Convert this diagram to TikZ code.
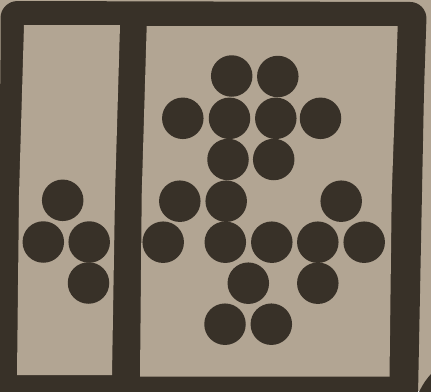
\documentclass[tikz,border=0pt]{standalone}
\usetikzlibrary{backgrounds}
\definecolor{paper}{RGB}{178,165,147}
\definecolor{ink}{RGB}{56,49,40}
\tikzset{
  dot/.style={circle, fill=ink, draw=none, inner sep=0pt, minimum size=41.5pt},
  panel/.style={fill=paper, draw=none}
}
\begin{document}
\begin{tikzpicture}[x=1pt, y=-1pt]
\useasboundingbox (0,0) rectangle (431,391);
\fill[paper] (0,0) rectangle (431,391);
% outer frame
\fill[ink] (-3,395) -- (0.5,60) [rounded corners=17pt] -- (0.5,1) -- (427,2) -- (424,90) [sharp corners] -- (418,395) -- cycle;
% bottom-right fragment
\fill[ink] (419,392) .. controls (423,384) and (427,378) .. (432,373) -- (432,392) -- cycle;
% panels
\fill[panel] (24,25) -- (120,25) -- (115,195) -- (112,375) -- (17,375) -- (19,195) -- cycle;
\fill[panel] (146.7,26) -- (397.7,26) -- (391.7,195) -- (389.5,376.5) -- (140,376.5) -- (141.7,195) -- cycle;
% left panel dots
\node[dot] (la) at (62.7,200.3) {};
\node[dot] (lb) at (43.3,242) {};
\node[dot] (lc) at (89.2,242) {};
\node[dot] (ld) at (88.5,283) {};
% right panel dots
\node[dot] (a1) at (231.7,76) {};
\node[dot] (a2) at (277.8,76.5) {};
\node[dot] (b1) at (182.8,118.3) {};
\node[dot] (b2) at (229.5,118.3) {};
\node[dot] (b3) at (275.8,118.3) {};
\node[dot] (b4) at (320.5,118.3) {};
\node[dot] (c1) at (228,159.5) {};
\node[dot] (c2) at (273.7,159.5) {};
\node[dot] (d1) at (179.8,201.2) {};
\node[dot] (d2) at (226.2,201.2) {};
\node[dot] (d3) at (341.2,201.2) {};
\node[dot] (e1) at (163.2,242.2) {};
\node[dot] (e2) at (225.3,242.2) {};
\node[dot] (e3) at (271.8,242.2) {};
\node[dot] (e4) at (317.8,242.2) {};
\node[dot] (e5) at (364.2,242.2) {};
\node[dot] (f1) at (248.3,283.2) {};
\node[dot] (f2) at (317.8,283.2) {};
\node[dot] (g1) at (225,324.2) {};
\node[dot] (g2) at (271.3,324.2) {};
\end{tikzpicture}
\end{document}
